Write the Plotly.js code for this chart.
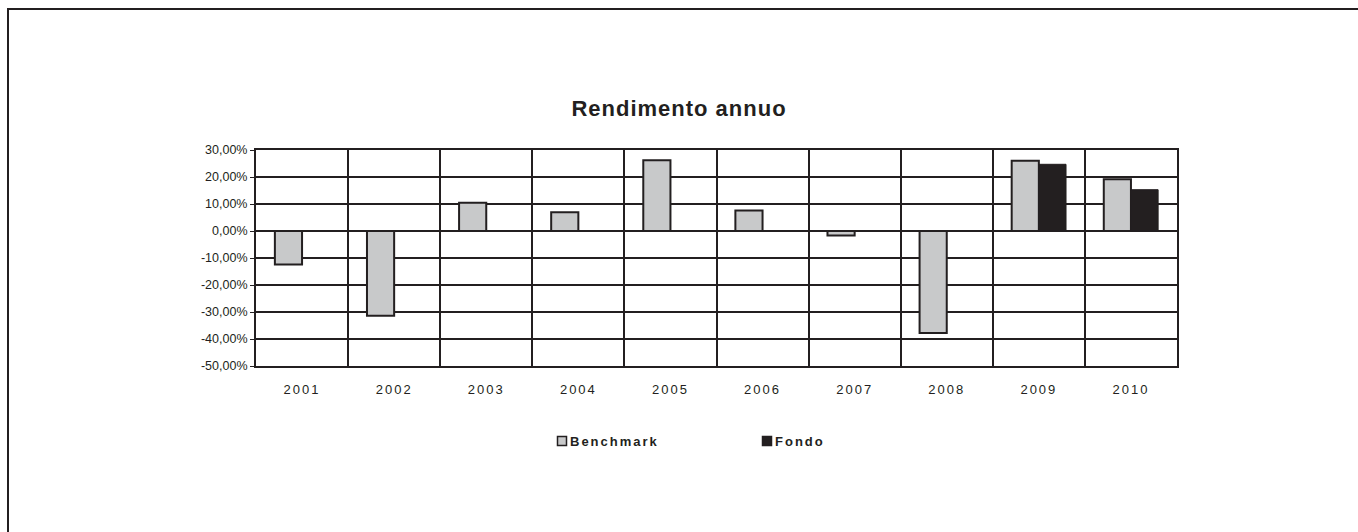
<!DOCTYPE html>
<html>
<head>
<meta charset="utf-8">
<script src="https://cdn.plot.ly/plotly-3.0.1.min.js"></script>
<style>
  html, body { margin: 0; padding: 0; background: #fff; }
  #frame { position: absolute; left: 7px; top: 8px; width: 1360px; height: 530px;
           border-top: 2px solid #231f20; border-left: 2px solid #231f20; box-sizing: border-box; }
  #chart { position: absolute; left: 0; top: 0; width: 1358px; height: 532px; }
  #chart .xtick text { letter-spacing: 2px; }
  #chart .gtitle { letter-spacing: 1px; }
  #chart .legendtext { letter-spacing: 2px; }
</style>
</head>
<body>
<div id="frame"></div>
<div id="chart"></div>
<script>
const years = ["2001", "2002", "2003", "2004", "2005", "2006", "2007", "2008", "2009", "2010"];
const benchmark = [-12.4, -31.4, 10.5, 6.9, 26.2, 7.6, -1.7, -37.8, 26.0, 19.2];
const fondo = [null, null, null, null, null, null, null, null, 24.7, 15.3];
const yTickVals = [30, 20, 10, 0, -10, -20, -30, -40, -50];
const yTickText = ["30,00%", "20,00%", "10,00%", "0,00%", "-10,00%", "-20,00%", "-30,00%", "-40,00%", "-50,00%"];

const ink = "#231f20";
const font = "Liberation Sans, Arial, sans-serif";

const traces = [
  { type: "bar", name: "Benchmark", x: years, y: benchmark,
    marker: { color: "#c8c9ca", line: { color: ink, width: 2 } }, hoverinfo: "x+y" },
  { type: "bar", name: "Fondo", x: years, y: fondo,
    marker: { color: ink, line: { color: ink, width: 1 } }, hoverinfo: "x+y" }
];

const layout = {
  width: 1358, height: 532,
  paper_bgcolor: "rgba(0,0,0,0)", plot_bgcolor: "rgba(0,0,0,0)",
  margin: { l: 256, r: 181, t: 150, b: 166 },
  font: { family: font, color: ink, size: 12 },
  title: { text: "<b>Rendimento annuo</b>", font: { family: font, size: 22, color: ink },
           x: 0.5, xanchor: "center", y: 1 - 108 / 532, yanchor: "middle", yref: "container" },
  barmode: "group", bargap: 0.41, bargroupgap: 0,
  xaxis: {
    type: "category", tickson: "boundaries", showgrid: true, gridcolor: ink, gridwidth: 2,
    ticks: "", showline: true, mirror: true, linecolor: ink, linewidth: 2,
    tickfont: { family: font, size: 13, color: ink }, ticklabelstandoff: 10, fixedrange: true
  },
  yaxis: {
    range: [-50, 30], tickvals: yTickVals, ticktext: yTickText,
    showgrid: true, gridcolor: ink, gridwidth: 2,
    zeroline: true, zerolinecolor: ink, zerolinewidth: 2,
    ticks: "outside", ticklen: 4, tickcolor: ink, tickwidth: 1,
    showline: true, mirror: true, linecolor: ink, linewidth: 2,
    tickfont: { family: font, size: 12.5, color: ink }, fixedrange: true
  },
  showlegend: true,
  legend: {
    orientation: "h", x: (542 - 256) / 921, xanchor: "left",
    y: (366 - 441) / 216, yanchor: "middle",
    entrywidth: 160, entrywidthmode: "pixels",
    font: { family: font, size: 13, color: ink, weight: "bold" },
    itemsizing: "constant", bgcolor: "rgba(0,0,0,0)"
  }
};

Plotly.newPlot("chart", traces, layout, { displayModeBar: false, staticPlot: true }).then(function (gd) {
  gd.querySelectorAll(".legend .traces").forEach(function (item) {
    const txt = item.querySelector(".legendtext");
    if (txt) txt.setAttribute("x", 28);
    item.querySelectorAll(".legendpoints path").forEach(function (p) {
      const base = p.getAttribute("transform") || "";
      p.setAttribute("transform", base + " scale(0.75)");
    });
  });
});
</script>
</body>
</html>
